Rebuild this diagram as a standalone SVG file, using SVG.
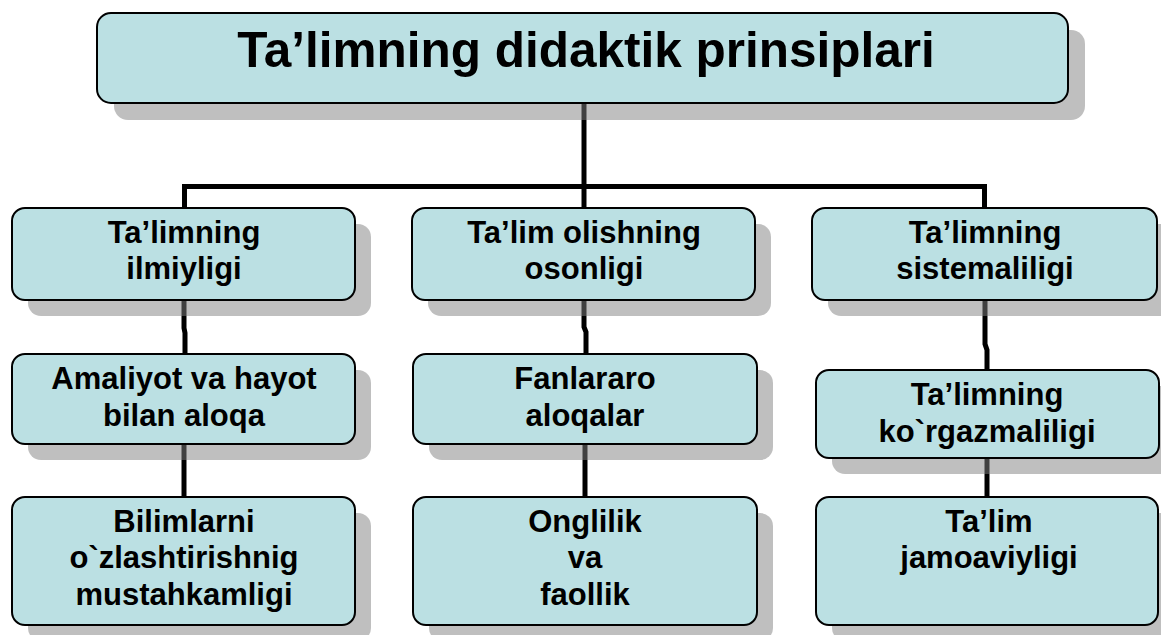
<svg xmlns="http://www.w3.org/2000/svg" width="1161" height="635" viewBox="0 0 1161 635">
  <style>
    .conn { fill: none; stroke: #000; stroke-width: 5; stroke-linejoin: miter; }
    .shadow { fill: #808080; opacity: 0.5; }
    .box { fill: #BBE0E3; stroke: #000; stroke-width: 2; }
    .t { font-family: "Liberation Sans", Arial, sans-serif; font-weight: bold; fill: #000; text-anchor: middle; }
    .title { font-size: 49.5px; }
    .lbl { font-size: 31px; }
  </style>
  <rect width="1161" height="635" fill="#fff"/>

  <g id="connectors">
    <path class="conn" d="M584,103 V186.5"/>
    <path class="conn" d="M184.5,208 V186.5 H984.5 V208"/>
    <path class="conn" d="M584,186.5 V208"/>
    <path class="conn" d="M184,300 V328 L185,333 V354"/>
    <path class="conn" d="M584,300 V327 L586,332 V354"/>
    <path class="conn" d="M985,300 V344 L987,350 V370"/>
    <path class="conn" d="M184,444 V497"/>
    <path class="conn" d="M585,444 V497"/>
    <path class="conn" d="M987,458 V497"/>
  </g>

  <g id="shadows">
    <rect class="shadow" x="114" y="30" width="971" height="90" rx="14"/>
    <rect class="shadow" x="28" y="224" width="343" height="92" rx="13"/>
    <rect class="shadow" x="428" y="224" width="343" height="92" rx="13"/>
    <rect class="shadow" x="828" y="224" width="345" height="92" rx="13"/>
    <rect class="shadow" x="28" y="370" width="343" height="90" rx="13"/>
    <rect class="shadow" x="429" y="370" width="344" height="90" rx="13"/>
    <rect class="shadow" x="832" y="386" width="343" height="88" rx="13"/>
    <rect class="shadow" x="28" y="513" width="343" height="128" rx="13"/>
    <rect class="shadow" x="429" y="513" width="344" height="128" rx="13"/>
    <rect class="shadow" x="832" y="513" width="342" height="128" rx="13"/>
  </g>

  <g id="title">
    <rect class="box" x="97" y="13" width="971" height="90" rx="14"/>
    <text class="t title" x="586" y="67">Ta’limning didaktik prinsiplari</text>
  </g>

  <g id="n-ilmiyligi">
    <rect class="box" x="12" y="208" width="343" height="92" rx="13"/>
    <text class="t lbl" x="184" y="243">Ta’limning</text>
    <text class="t lbl" x="184" y="279">ilmiyligi</text>
  </g>

  <g id="n-osonligi">
    <rect class="box" x="412" y="208" width="343" height="92" rx="13"/>
    <text class="t lbl" x="584" y="243">Ta’lim olishning</text>
    <text class="t lbl" x="584" y="279">osonligi</text>
  </g>

  <g id="n-sistemaliligi">
    <rect class="box" x="812" y="208" width="345" height="92" rx="13"/>
    <text class="t lbl" x="985" y="243">Ta’limning</text>
    <text class="t lbl" x="985" y="279">sistemaliligi</text>
  </g>

  <g id="n-amaliyot">
    <rect class="box" x="12" y="354" width="343" height="90" rx="13"/>
    <text class="t lbl" x="184" y="389">Amaliyot va hayot</text>
    <text class="t lbl" x="184" y="426">bilan aloqa</text>
  </g>

  <g id="n-fanlararo">
    <rect class="box" x="413" y="354" width="344" height="90" rx="13"/>
    <text class="t lbl" x="585" y="389">Fanlararo</text>
    <text class="t lbl" x="585" y="426">aloqalar</text>
  </g>

  <g id="n-korgazmaliligi">
    <rect class="box" x="816" y="370" width="343" height="88" rx="13"/>
    <text class="t lbl" x="987" y="405">Ta’limning</text>
    <text class="t lbl" x="987" y="442">ko`rgazmaliligi</text>
  </g>

  <g id="n-bilimlarni">
    <rect class="box" x="12" y="497" width="343" height="128" rx="13"/>
    <text class="t lbl" x="184" y="532">Bilimlarni</text>
    <text class="t lbl" x="184" y="568">o`zlashtirishnig</text>
    <text class="t lbl" x="184" y="605">mustahkamligi</text>
  </g>

  <g id="n-onglilik">
    <rect class="box" x="413" y="497" width="344" height="128" rx="13"/>
    <text class="t lbl" x="585" y="532">Onglilik</text>
    <text class="t lbl" x="585" y="568">va</text>
    <text class="t lbl" x="585" y="605">faollik</text>
  </g>

  <g id="n-jamoaviyligi">
    <rect class="box" x="816" y="497" width="342" height="128" rx="13"/>
    <text class="t lbl" x="989" y="532">Ta’lim</text>
    <text class="t lbl" x="989" y="568">jamoaviyligi</text>
  </g>
</svg>
